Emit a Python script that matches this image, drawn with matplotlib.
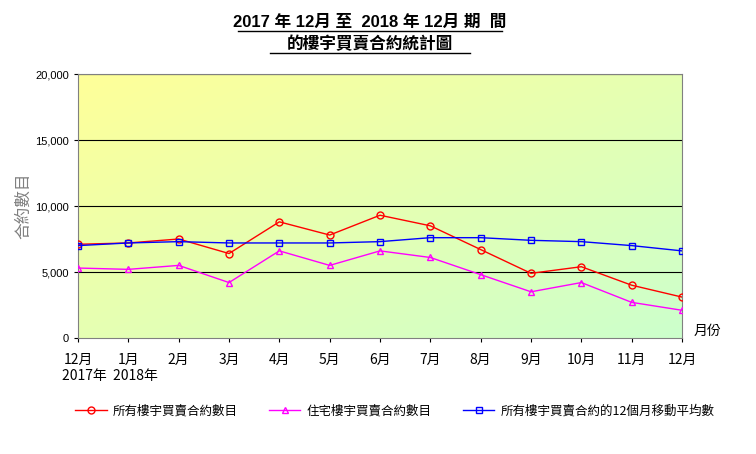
import numpy as np
import matplotlib
matplotlib.use('Agg')
from matplotlib import pyplot as plt
from matplotlib.colors import LinearSegmentedColormap

plt.rcParams['font.family'] = ['Liberation Sans', 'Noto Sans CJK TC']

months = ['12月', '1月', '2月', '3月', '4月', '5月', '6月', '7月', '8月', '9月', '10月', '11月', '12月']
total = [7100, 7200, 7500, 6400, 8800, 7800, 9300, 8500, 6700, 4900, 5400, 4000, 3100]
residential = [5300, 5200, 5500, 4200, 6600, 5500, 6600, 6100, 4800, 3500, 4200, 2700, 2100]
moving_avg = [7000, 7200, 7300, 7200, 7200, 7200, 7300, 7600, 7600, 7400, 7300, 7000, 6600]
yticks = [0, 5000, 10000, 15000, 20000]

fig = plt.figure(figsize=(7.56, 4.54), dpi=100)
ax = fig.add_axes([78/756, 1-338/454, 604/756, 264/454])

# background gradient yellow -> green
cmap = LinearSegmentedColormap.from_list('bg', ['#FFFF99', '#CCFFCC'])
gx, gy = np.meshgrid(np.linspace(0, 1, 200), np.linspace(0, 1, 200))
ax.imshow((gx + gy) / 2, cmap=cmap, extent=[0, 1, 0, 1], transform=ax.transAxes,
          aspect='auto', zorder=0, origin='upper')

x = np.arange(len(months))
ax.plot(x, total, color='#FF0000', marker='o', mfc='none', ms=5, lw=1, zorder=3,
        label='所有樓宇買賣合約數目')
ax.plot(x, residential, color='#FF00FF', marker='^', mfc='none', ms=5, lw=1, zorder=3,
        label='住宅樓宇買賣合約數目')
ax.plot(x, moving_avg, color='#0000FF', marker='s', mfc='none', ms=5, lw=1, zorder=3,
        label='所有樓宇買賣合約的12個月移動平均數')

ax.set_xlim(0, 12)
ax.set_ylim(0, 20000)
ax.set_yticks(yticks)
ax.set_yticklabels(['{:,}'.format(v) for v in yticks], fontsize=8)
for v in yticks[1:]:
    ax.axhline(v, color='black', lw=0.8, zorder=1)
ax.set_xticks(x)
ax.set_xticklabels(months, fontsize=10, family='Noto Sans CJK TC')
ax.tick_params(axis='x', length=3, pad=8)
ax.tick_params(axis='y', length=3)
for s in ax.spines.values():
    s.set_color('#808080')
ax.set_ylabel('合約數目', fontsize=12, color='#808080', family='Noto Sans CJK TC', labelpad=2)

fig.text(110/756, 1-376/454, '2017年  2018年', fontsize=10, family='Noto Sans CJK TC', ha='center', va='center')
fig.text(707/756, 1-331/454, '月份', fontsize=10, family='Noto Sans CJK TC', ha='center', va='center')

fig.text(370/756, 1-22/454, '2017 年 12月 至  2018 年 12月 期  間', fontsize=12, weight='bold',
         ha='center', va='center')
fig.text(370/756, 1-44/454, '的樓宇買賣合約統計圖', fontsize=12, weight='bold',
         family='Noto Sans CJK TC', ha='center', va='center')
fig.add_artist(plt.Line2D([238/756, 502/756], [1-31/454, 1-31/454], color='black', lw=1))
fig.add_artist(plt.Line2D([270/756, 470/756], [1-53/454, 1-53/454], color='black', lw=1))

fig.legend(loc='center', bbox_to_anchor=(395/756, 1-411/454), ncol=3, frameon=False,
           prop={'family': 'Noto Sans CJK TC', 'size': 9}, handlelength=2.5,
           columnspacing=2.5, handletextpad=0.5)

plt.savefig('out.png')
